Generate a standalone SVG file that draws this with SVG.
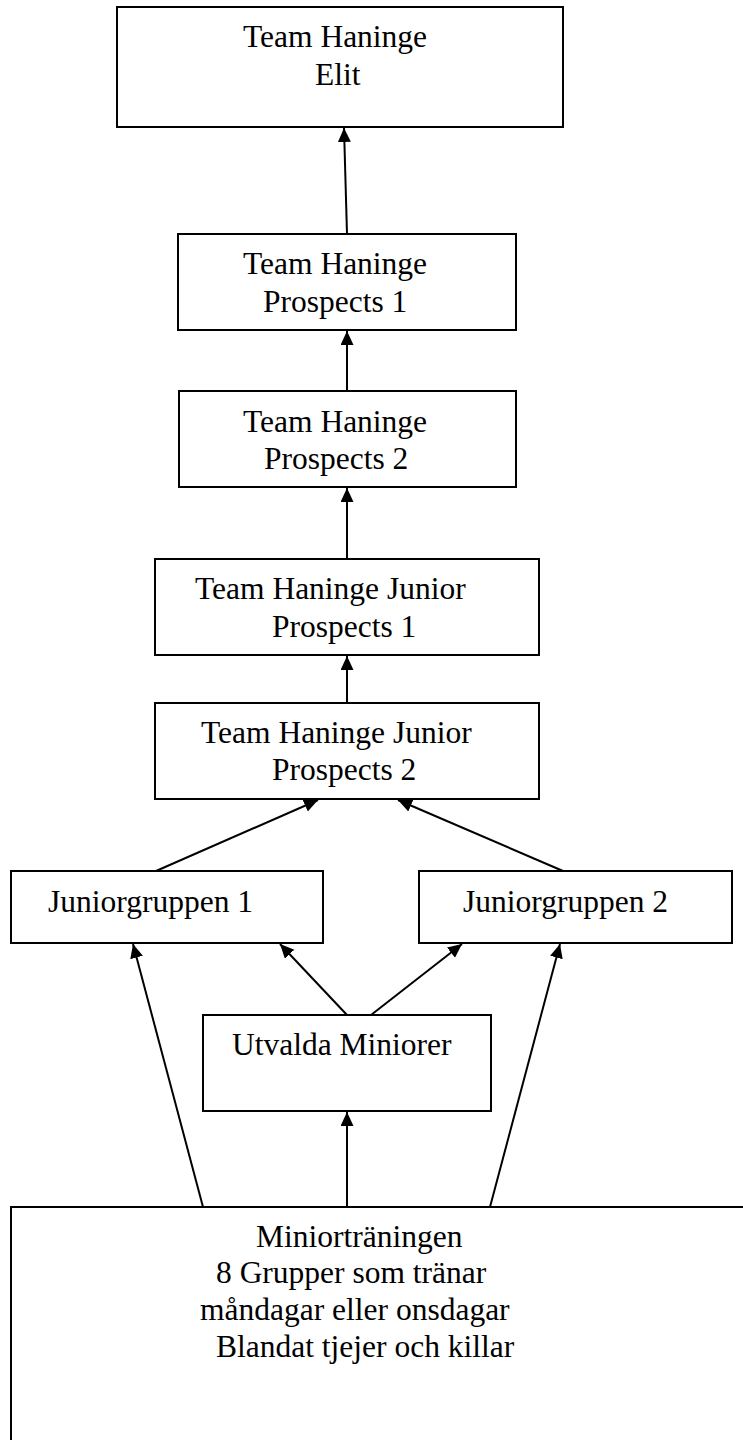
<svg xmlns="http://www.w3.org/2000/svg" width="743" height="1440" viewBox="0 0 743 1440">
<style>
.box{fill:#fff;stroke:#000;stroke-width:2}
.t{font-family:"Liberation Serif","Times New Roman",serif;font-size:31.5px;fill:#000}
.c{stroke:#000;stroke-width:2;fill:none;marker-end:url(#ah)}
</style>
<defs>
<marker id="ah" markerUnits="userSpaceOnUse" markerWidth="15" markerHeight="14" refX="14" refY="6.5" orient="auto">
<path d="M0,0 L14,6.5 L0,13 z" fill="#000"/>
</marker>
</defs>
<rect width="743" height="1440" fill="#fff"/>
<g id="elit">
<rect class="box" x="117" y="7" width="446" height="120"/>
<text class="t" x="243" y="47">Team Haninge</text>
<text class="t" x="315" y="85">Elit</text>
</g>
<g id="prospects1">
<rect class="box" x="178" y="234" width="338" height="96"/>
<text class="t" x="243" y="274">Team Haninge</text>
<text class="t" x="263" y="312">Prospects 1</text>
</g>
<g id="prospects2">
<rect class="box" x="179" y="391" width="337" height="96"/>
<text class="t" x="243" y="432">Team Haninge</text>
<text class="t" x="264" y="469">Prospects 2</text>
</g>
<g id="junior1">
<rect class="box" x="155" y="559" width="384" height="96"/>
<text class="t" x="195" y="599">Team Haninge Junior</text>
<text class="t" x="272" y="637">Prospects 1</text>
</g>
<g id="junior2">
<rect class="box" x="155" y="703" width="384" height="96"/>
<text class="t" x="201" y="743">Team Haninge Junior</text>
<text class="t" x="272" y="780">Prospects 2</text>
</g>
<g id="jg1">
<rect class="box" x="11" y="871" width="312" height="72"/>
<text class="t" x="48" y="912">Juniorgruppen 1</text>
</g>
<g id="jg2">
<rect class="box" x="419" y="871" width="313" height="72"/>
<text class="t" x="463" y="912">Juniorgruppen 2</text>
</g>
<g id="utvalda">
<rect class="box" x="203" y="1015" width="288" height="96"/>
<text class="t" x="232" y="1055">Utvalda Miniorer</text>
</g>
<g id="minior">
<rect class="box" x="11" y="1207" width="800" height="300"/>
<text class="t" x="256" y="1247">Miniorträningen</text>
<text class="t" x="216" y="1283">8 Grupper som tränar</text>
<text class="t" x="200" y="1320">måndagar eller onsdagar</text>
<text class="t" x="216" y="1357">Blandat tjejer och killar</text>
</g>
<g id="connectors">
<line class="c" x1="347" y1="234" x2="344" y2="128"/>
<line class="c" x1="347" y1="391" x2="347" y2="331"/>
<line class="c" x1="347" y1="559" x2="347" y2="488"/>
<line class="c" x1="347" y1="703" x2="347" y2="656"/>
<line class="c" x1="156" y1="871" x2="318" y2="800"/>
<line class="c" x1="563" y1="871" x2="398" y2="800"/>
<line class="c" x1="347" y1="1015" x2="280" y2="944"/>
<line class="c" x1="371" y1="1015" x2="462" y2="944"/>
<line class="c" x1="203" y1="1207" x2="133" y2="944"/>
<line class="c" x1="490" y1="1207" x2="560" y2="944"/>
<line class="c" x1="347" y1="1207" x2="347" y2="1112"/>
</g>
</svg>
